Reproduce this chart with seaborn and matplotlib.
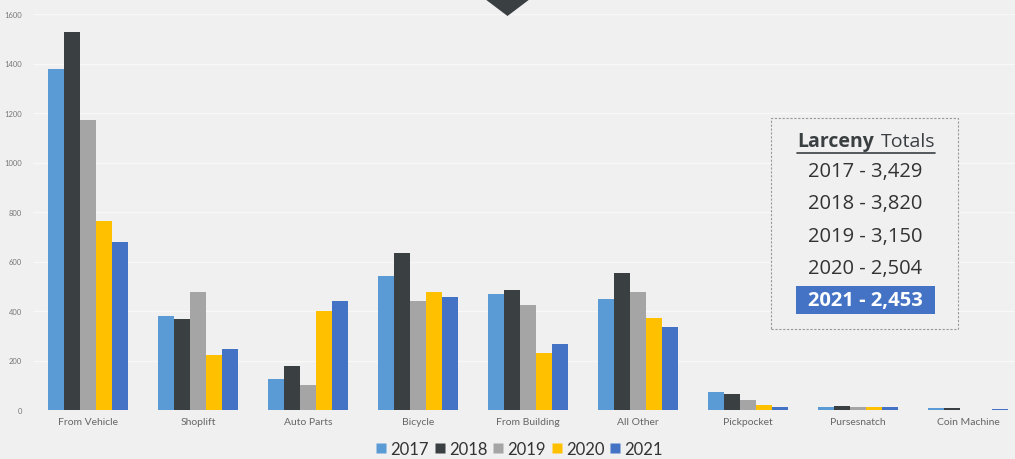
import pandas as pd
import matplotlib
matplotlib.use('Agg')
import matplotlib.pyplot as plt
import seaborn as sns
from matplotlib.patches import Polygon, Rectangle
from matplotlib.lines import Line2D

# --- Data ---
categories = ['From Vehicle', 'Shoplift', 'Auto Parts', 'Bicycle', 'From Building',
              'All Other', 'Pickpocket', 'Pursesnatch', 'Coin Machine']
years = ['2017', '2018', '2019', '2020', '2021']
counts_2017 = [1376, 380, 127, 543, 469, 448, 73, 11, 10]
counts_2018 = [1526, 366, 177, 633, 483, 554, 64, 18, 7]
counts_2019 = [1170, 478, 103, 441, 423, 478, 41, 12, 1]
counts_2020 = [762, 224, 401, 475, 231, 371, 22, 13, 2]
counts_2021 = [680, 245, 440, 456, 267, 337, 11, 11, 5]
year_totals = ['3,429', '3,820', '3,150', '2,504', '2,453']

colors = ['#5B9BD5', '#3A3F42', '#A5A5A5', '#FFC000', '#4472C4']
BG = '#F0F0F1'

# long table for seaborn
all_counts = [counts_2017, counts_2018, counts_2019, counts_2020, counts_2021]
rows = []
for yr, vals in zip(years, all_counts):
    for cat, v in zip(categories, vals):
        rows.append({'Category': cat, 'Year': yr, 'Count': v})
df = pd.DataFrame(rows)

sns.set_style('white')
plt.rcParams['font.family'] = ['Lato', 'DejaVu Sans']

fig = plt.figure(figsize=(10.15, 4.6), dpi=100, facecolor=BG)
ax = fig.add_axes([33 / 1015, 49 / 460, 982 / 1015, 396 / 460], facecolor=BG)

sns.barplot(data=df, x='Category', y='Count', hue='Year', order=categories,
            hue_order=years, palette=colors, saturation=1, width=0.73,
            errorbar=None, linewidth=0, edgecolor='none', legend=False, ax=ax)

ax.set_ylim(0, 1600)
ax.set_xlim(-0.5, 8.427)
ax.set_yticks(range(0, 1601, 200))
ax.yaxis.grid(True, color='#F8F8F8', linewidth=0.9)
ax.set_axisbelow(True)
for s in ax.spines.values():
    s.set_visible(False)
ax.set_xlabel('')
ax.set_ylabel('')
ax.tick_params(axis='y', length=0, labelsize=5.5, labelcolor='#777777', pad=8)
ax.tick_params(axis='x', length=0, labelsize=7.5, labelcolor='#666666', pad=5)
ax.axhline(0, color='#E2E2E2', linewidth=0.8, zorder=0.5)

# legend along the bottom, small square markers
handles = [Line2D([], [], marker='s', linestyle='none', markersize=6.5,
                  markerfacecolor=c, markeredgecolor='none') for c in colors]
fig.legend(handles, years, loc='center', bbox_to_anchor=(520 / 1015, 1 - 450 / 460),
           ncol=5, frameon=False, fontsize=12, labelcolor='#333333',
           handlelength=0.5, handletextpad=0.3, columnspacing=0.4)

# dark marker triangle at the top
fig.patches.append(Polygon([(485 / 1015, 1.0), (530 / 1015, 1.0), (507.5 / 1015, 1 - 17 / 460)],
                           closed=True, transform=fig.transFigure, facecolor='#3A3F42',
                           edgecolor='none'))


# totals box, positioned in pixels
def fx(px):
    return px / 1015


def fy(py):
    return 1 - py / 460


fig.patches.append(Rectangle((fx(771), fy(330)), fx(958) - fx(771), fy(119) - fy(330),
                             transform=fig.transFigure, facecolor=BG, edgecolor='#999999',
                             linestyle=(0, (2, 1.5)), linewidth=0.8))
box_font = ['Open Sans', 'DejaVu Sans']
fig.text(fx(797), fy(142), 'Larceny', fontsize=14, fontweight='bold', color='#3A3F42',
         family=box_font, ha='left', va='center')
fig.text(fx(935), fy(142), 'Totals', fontsize=14, color='#3A3F42',
         family=box_font, ha='right', va='center')
fig.add_artist(Line2D([fx(797), fx(935)], [fy(154), fy(154)], transform=fig.transFigure,
                      color='#3A3F42', linewidth=1.2))
line_y = [172, 204, 237, 269, 301]
for i, (yr, tot) in enumerate(zip(years, year_totals)):
    label = f'{yr} - {tot}'
    if i == len(years) - 1:
        fig.patches.append(Rectangle((fx(796), fy(315)), fx(935) - fx(796), fy(287) - fy(315),
                                     transform=fig.transFigure, facecolor='#4472C4',
                                     edgecolor='none'))
        fig.text(fx(865), fy(line_y[i]), label, fontsize=14.5, fontweight='bold',
                 color='white', family=box_font, ha='center', va='center')
    else:
        fig.text(fx(865), fy(line_y[i]), label, fontsize=14.5, color='#333333',
                 family=box_font, ha='center', va='center')

fig.savefig('out.png', dpi=100, facecolor=BG)
